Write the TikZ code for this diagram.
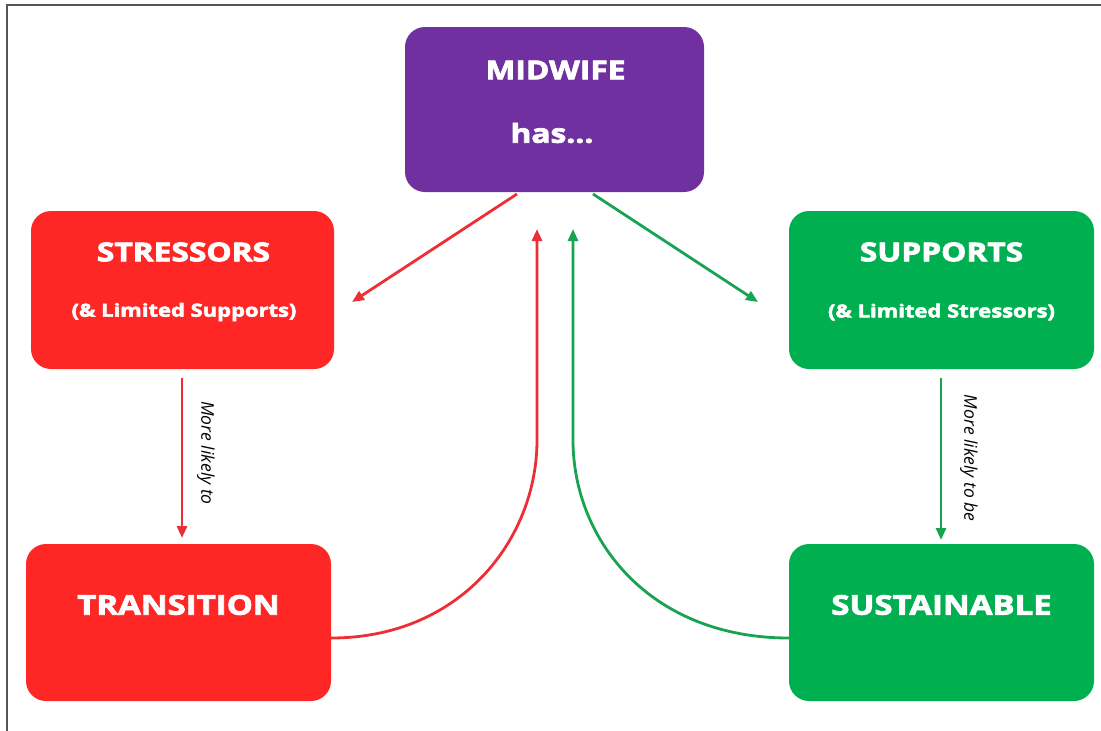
\documentclass[tikz,border=0pt]{standalone}
\usepackage{fontspec}
\setmainfont{Open Sans}
\newfontfamily\heavy{Open Sans}[BoldFeatures={FakeBold=3,FakeStretch=1.22}]
\usetikzlibrary{arrows.meta}
\definecolor{mpurple}{HTML}{7030A0}
\definecolor{mred}{HTML}{FF2626}
\definecolor{mgreen}{HTML}{00B050}
\definecolor{ared}{HTML}{EE2E36}
\definecolor{agreen}{HTML}{17A350}
\definecolor{frame}{HTML}{555555}
\tikzset{
  box/.style={rounded corners=20pt, inner sep=0pt},
  btext/.style={text=white, inner sep=0pt},
  arr/.style={line width=2.8pt, -{Triangle[length=12pt,width=10pt]}},
  lbl/.style={text=black, font=\itshape\fontsize{17.5}{20}\selectfont, rotate=-90, inner sep=0pt}
}
\begin{document}
\begin{tikzpicture}[x=1pt,y=-1pt]
\useasboundingbox (0,0) rectangle (1101,731);
\draw[frame, line width=1.5pt] (7,731) -- (7,5) -- (1101,5);
% boxes
\node[box, fill=mpurple, minimum width=299pt, minimum height=165pt] (mid) at (554.5,109.5) {};
\node[box, fill=mred, minimum width=303pt, minimum height=158pt] (str) at (182.5,290) {};
\node[box, fill=mgreen, minimum width=305pt, minimum height=158pt] (sup) at (941.5,290) {};
\node[box, fill=mred, minimum width=305pt, minimum height=157pt] (tra) at (178.5,622.5) {};
\node[box, fill=mgreen, minimum width=305pt, minimum height=157pt] (sus) at (941.5,622.5) {};
% texts
\node[btext, font=\heavy\bfseries\fontsize{26}{30}\selectfont] (t1) at (555.5,70) {MIDWIFE};
\node[btext, font=\heavy\bfseries\fontsize{26}{30}\selectfont] (t2) at (552,133) {has...};
\node[btext, font=\heavy\bfseries\fontsize{26}{30}\selectfont] (t3) at (183.5,252) {STRESSORS};
\node[btext, font=\heavy\bfseries\fontsize{18}{22}\selectfont] (t4) at (184,312) {(\& Limited Supports)};
\node[btext, font=\heavy\bfseries\fontsize{26}{30}\selectfont] (t5) at (941.5,252) {SUPPORTS};
\node[btext, font=\heavy\bfseries\fontsize{18}{22}\selectfont] (t6) at (941.5,312) {(\& Limited Stressors)};
\node[btext, font=\heavy\bfseries\fontsize{27}{30}\selectfont] (t7) at (178.5,605) {TRANSITION};
\node[btext, font=\heavy\bfseries\fontsize{27}{30}\selectfont] (t8) at (941.5,605) {SUSTAINABLE};
% coordinates
\coordinate (a1s) at (517,194);
\coordinate (a1e) at (352,302);
\coordinate (a2s) at (593,194);
\coordinate (a2e) at (758,302);
\coordinate (v1s) at (182,378);
\coordinate (v1e) at (182,538);
\coordinate (v2s) at (941,378);
\coordinate (v2e) at (941,540);
\coordinate (rtip) at (537,229);
\coordinate (gtip) at (573,229);
% arrows
\draw[arr, ared] (a1s) -- (a1e);
\draw[arr, agreen] (a2s) -- (a2e);
\draw[arr, ared] (v1s) -- (v1e);
\draw[arr, agreen] (v2s) -- (v2e);
\node[lbl] (l1) at (206,453) {More likely to};
\node[lbl] (l2) at (969,458) {More likely to be};
\draw[arr, ared] (tra.east |- 0,638) .. controls (460,638) and (537,540) .. (537,440) -- (rtip);
\draw[arr, agreen] (sus.west |- 0,638) .. controls (650,638) and (573,540) .. (573,440) -- (gtip);
\end{tikzpicture}
\end{document}
